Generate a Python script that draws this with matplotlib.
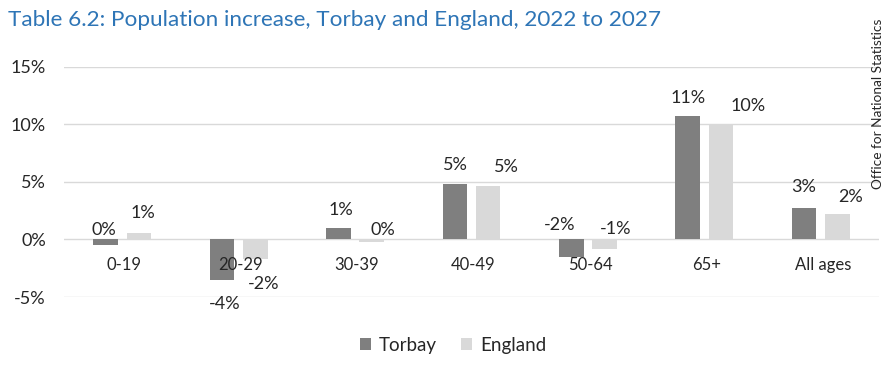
import matplotlib
matplotlib.use("Agg")
import matplotlib.pyplot as plt
import numpy as np

categories = ["0-19", "20-29", "30-39", "40-49", "50-64", "65+", "All ages"]
torbay = [-0.46, -3.5, 1.0, 4.8, -1.5, 10.7, 2.7]
england = [0.55, -1.7, -0.26, 4.6, -0.84, 10.0, 2.2]
torbay_labels = ["0%", "-4%", "1%", "5%", "-2%", "11%", "3%"]
england_labels = ["1%", "-2%", "0%", "5%", "-1%", "10%", "2%"]
yticks = [-5, 0, 5, 10, 15]
ytick_labels = ["-5%", "0%", "5%", "10%", "15%"]

# label offsets (pixels) relative to bar end: (dx, dy)
torbay_off = [(-2, 15), (3, -24), (2, 18), (1, 19), (-12, 32), (0, 18), (-1, 21)]
england_off = [(4, 20), (8, -25), (11, 12), (18, 19), (11, 20), (27, 18), (13, 17)]

plt.rcParams['font.family'] = ['Lato', 'DejaVu Sans']

W, H = 896, 367
fig = plt.figure(figsize=(W / 100, H / 100), dpi=100)
ax = fig.add_axes([64 / W, 70 / H, (879 - 64) / W, (297 - 66.7) / H])

x = np.arange(len(categories))
bw = 0.21
sep = 0.143
c_t = "#7f7f7f"
c_e = "#d9d9d9"
ax.bar(x - sep, torbay, width=bw, color=c_t, label="Torbay", zorder=3)
ax.bar(x + sep, england, width=bw, color=c_e, label="England", zorder=3)

ax.set_xlim(-0.5, len(categories) - 0.5)
ax.set_ylim(-5, 15)
ax.set_yticks(yticks)
ax.set_yticklabels(ytick_labels, fontsize=13, color="#262626")
ax.tick_params(axis='y', length=0, pad=13)
ax.set_xticks([])
ax.grid(axis='y', color="#d9d9d9", linewidth=1.0, zorder=0)
for s in ax.spines.values():
    s.set_visible(False)

pt = 0.72
for i, cat in enumerate(categories):
    ax.annotate(cat, (x[i], 0), xytext=(2 * pt, -26 * pt), textcoords='offset points',
                ha='center', va='center', fontsize=12, color="#262626")
for i in range(len(categories)):
    dx, dy = torbay_off[i]
    ax.annotate(torbay_labels[i], (x[i] - sep, torbay[i]), xytext=(dx * pt, dy * pt),
                textcoords='offset points', ha='center', va='center', fontsize=13, color="#262626")
    dx, dy = england_off[i]
    ax.annotate(england_labels[i], (x[i] + sep, england[i]), xytext=(dx * pt, dy * pt),
                textcoords='offset points', ha='center', va='center', fontsize=13, color="#262626")

fig.text(8 / W, 1 - 20 / H, "Table 6.2: Population increase, Torbay and England, 2022 to 2027",
         ha='left', va='center', fontsize=16.2, color="#2e75b6")
fig.text(878 / W, 1 - 104 / H, "Office for National Statistics", rotation=90,
         ha='center', va='center', fontsize=9.8, color="#262626")

fig.legend(loc='center', bbox_to_anchor=(453 / W, 22 / H), ncol=2, frameon=False,
           fontsize=13.5, handlelength=0.6, handleheight=0.6, handletextpad=0.4,
           columnspacing=1.3, labelcolor="#262626")

fig.savefig("out.png", dpi=100)
